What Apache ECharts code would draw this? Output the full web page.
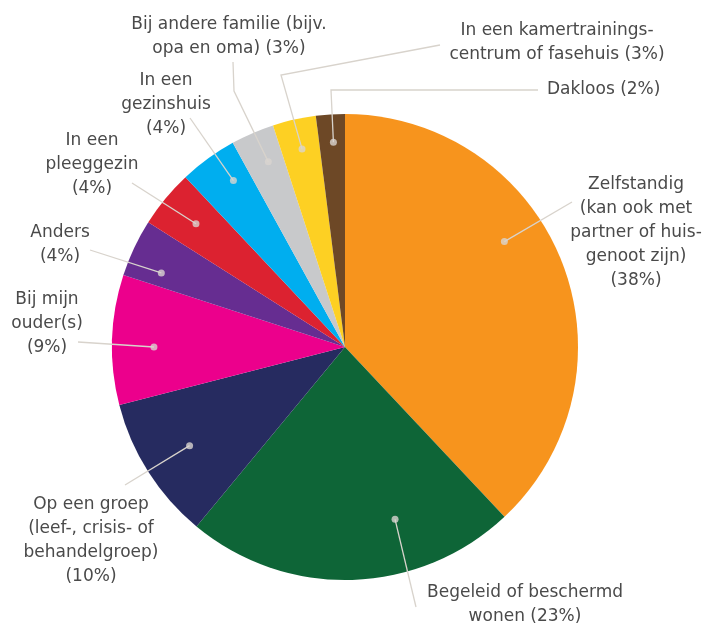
<!DOCTYPE html>
<html>
<head>
<meta charset="utf-8">
<script src="https://cdn.jsdelivr.net/npm/echarts@6/dist/echarts.min.js"></script>
<style>
html,body{margin:0;padding:0;background:#fff;}
#chart{width:706px;height:625px;}
</style>
</head>
<body>
<div id="chart"></div>
<script>
// ---- data ----
const categories = [
  'Zelfstandig\n(kan ook met\npartner of huis-\ngenoot zijn)\n(38%)',
  'Begeleid of beschermd\nwonen (23%)',
  'Op een groep\n(leef-, crisis- of\nbehandelgroep)\n(10%)',
  'Bij mijn\nouder(s)\n(9%)',
  'Anders\n(4%)',
  'In een\npleeggezin\n(4%)',
  'In een\ngezinshuis\n(4%)',
  'Bij andere familie (bijv.\nopa en oma) (3%)',
  'In een kamertrainings-\ncentrum of fasehuis (3%)',
  'Dakloos (2%)'
];
const values = [38, 23, 10, 9, 4, 4, 4, 3, 3, 2];

// ---- style / layout ----
const colors = ['#F7941D', '#0E6537', '#262B60', '#EC008C', '#662D91', '#DC2230', '#00AEEF', '#C8C9CB', '#FDD023', '#6D4826'];
const CX = 345, CY = 347, R = 233;
const lineColor = '#D8D3CC';
const labelPos = [
  {x: 636, y: 233, align: 'center', pts: [[572, 202]]},
  {x: 525, y: 605, align: 'center', pts: [[416, 607]]},
  {x: 91,  y: 541, align: 'center', pts: [[125, 485]]},
  {x: 47,  y: 324, align: 'center', pts: [[78, 342]]},
  {x: 60,  y: 245, align: 'center', pts: [[90, 250]]},
  {x: 92,  y: 165, align: 'center', pts: [[132, 183]]},
  {x: 166, y: 105, align: 'center', pts: [[190, 118]]},
  {x: 229, y: 37,  align: 'center', pts: [[234, 91], [233, 62]]},
  {x: 557, y: 43,  align: 'center', pts: [[281, 75], [440, 45]]},
  {x: 547, y: 90,  align: 'left',   pts: [[331, 90], [538, 90]]}
];
const dotFrac  = [0.82, 0.77, 0.79, 0.82, 0.85, 0.83, 0.86, 0.86, 0.87, 0.88];
const dotShift = [-3.3, -4, 0, -0.5, -0.9, 0, 0.6, 0.25, 0.1, 0.1];

const total = values.reduce((a, b) => a + b, 0);
const dotAngles = [];
let acc = 0;
values.forEach((v, i) => { dotAngles.push(acc + v / 2 + dotShift[i]); acc += v; });
function dotPixel(i) {
  const a = dotAngles[i] / total * Math.PI * 2;
  const r = R * dotFrac[i];
  return [CX + r * Math.sin(a), CY - r * Math.cos(a)];
}

const pieData = categories.map((c, i) => ({name: c, value: values[i], itemStyle: {color: colors[i]}}));

const chart = echarts.init(document.getElementById('chart'), null, {renderer: 'canvas'});
chart.setOption({
  backgroundColor: '#ffffff',
  animation: false,
  polar: {center: [CX, CY], radius: R},
  angleAxis: {type: 'value', min: 0, max: total, startAngle: 90, clockwise: true, show: false},
  radiusAxis: {type: 'value', min: 0, max: 1, show: false},
  series: [
    {
      type: 'pie',
      z: 1,
      center: [CX, CY],
      radius: R,
      startAngle: 90,
      clockwise: true,
      silent: true,
      itemStyle: {borderWidth: 0},
      label: {show: false},
      labelLine: {show: false},
      data: pieData
    },
    {
      type: 'pie',
      z: 3,
      center: [CX, CY],
      radius: R,
      startAngle: 90,
      clockwise: true,
      avoidLabelOverlap: false,
      silent: true,
      itemStyle: {color: 'rgba(0,0,0,0)', borderWidth: 0},
      label: {
        show: true,
        position: 'outside',
        fontFamily: 'DejaVu Sans',
        fontSize: 17,
        fontWeight: 'normal',
        lineHeight: 24,
        color: '#4a4a4a',
        formatter: p => p.name
      },
      labelLine: {show: true, lineStyle: {color: lineColor, width: 1.3}},
      labelLayout: function (params) {
        const i = params.dataIndex;
        const lp = labelPos[i];
        const pts = [dotPixel(i)].concat(lp.pts);
        while (pts.length < 3) pts.push(pts[pts.length - 1]);
        return {x: lp.x, y: lp.y, align: lp.align, verticalAlign: 'middle', labelLinePoints: pts};
      },
      data: categories.map((c, i) => ({name: c, value: values[i]}))
    },
    {
      type: 'scatter',
      coordinateSystem: 'polar',
      silent: true,
      symbol: 'circle',
      symbolSize: 7,
      itemStyle: {color: '#D9D5D0'},
      z: 5,
      data: values.map((v, i) => [dotFrac[i], dotAngles[i]])
    }
  ]
});
</script>
</body>
</html>
